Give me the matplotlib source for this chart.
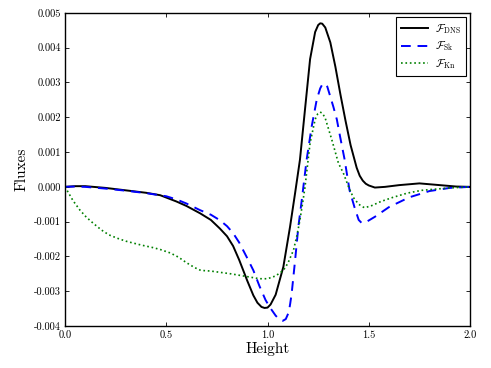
import matplotlib
matplotlib.use("Agg")
import matplotlib.pyplot as plt
from matplotlib.ticker import FormatStrFormatter, MultipleLocator

# ---- data ----
x_dns = [0, 0.05, 0.1, 0.2, 0.3, 0.4, 0.47, 0.55, 0.6, 0.667, 0.72, 0.765, 0.8, 0.83,
         0.86, 0.9, 0.93, 0.95, 0.97, 0.985, 1.0, 1.015, 1.04, 1.078, 1.111, 1.136, 1.16,
         1.185, 1.21, 1.235, 1.25, 1.26, 1.27, 1.285, 1.31, 1.335, 1.36, 1.385, 1.41,
         1.44, 1.455, 1.47, 1.485, 1.5, 1.53, 1.58, 1.65, 1.75, 1.85, 1.93, 2.0]
y_dns = [0, 2e-5, 2e-5, -3e-5, -1e-4, -1.7e-4, -2.4e-4, -4.2e-4, -5.5e-4, -7.6e-4,
         -9.5e-4, -1.2e-3, -1.42e-3, -1.7e-3, -2.1e-3, -2.7e-3, -3.12e-3, -3.33e-3,
         -3.45e-3, -3.48e-3, -3.47e-3, -3.38e-3, -3.1e-3, -2.3e-3, -1.15e-3, -1.8e-4,
         7.8e-4, 2.23e-3, 3.67e-3, 4.45e-3, 4.65e-3, 4.7e-3, 4.69e-3, 4.58e-3, 4.15e-3,
         3.45e-3, 2.65e-3, 1.9e-3, 1.2e-3, 5.5e-4, 3.2e-4, 1.8e-4, 9e-5, 4e-5, -2e-5,
         0, 5e-5, 1e-4, 5e-5, 1e-5, 0]

x_sk = [0, 0.05, 0.1, 0.2, 0.3, 0.4, 0.5, 0.55, 0.6, 0.667, 0.72, 0.765, 0.8, 0.83,
        0.86, 0.9, 0.93, 0.96, 0.99, 1.01, 1.04, 1.06, 1.075, 1.09, 1.105, 1.112, 1.119,
        1.136, 1.152, 1.169, 1.193, 1.218, 1.243, 1.26, 1.27, 1.278, 1.287, 1.295, 1.309,
        1.325, 1.342, 1.358, 1.38, 1.405, 1.43, 1.45, 1.465, 1.49, 1.53, 1.6, 1.7, 1.8,
        1.9, 2.0]
y_sk = [0, 1e-5, 0, -5e-5, -1.1e-4, -1.8e-4, -2.7e-4, -3.6e-4, -4.8e-4, -6.7e-4,
        -8e-4, -9.6e-4, -1.13e-3, -1.33e-3, -1.6e-3, -2.05e-3, -2.4e-3, -2.85e-3,
        -3.25e-3, -3.45e-3, -3.7e-3, -3.82e-3, -3.85e-3, -3.8e-3, -3.6e-3, -3.35e-3,
        -3.07e-3, -2.11e-3, -1.15e-3, -3.8e-4, 7.8e-4, 1.74e-3, 2.51e-3, 2.83e-3,
        2.94e-3, 2.97e-3, 2.95e-3, 2.88e-3, 2.61e-3, 2.3e-3, 1.94e-3, 1.45e-3, 8e-4,
        -1e-4, -6e-4, -9.5e-4, -1.04e-3, -1e-3, -8.6e-4, -5.8e-4, -3e-4, -1.2e-4,
        -3e-5, 0]

x_kn = [0, 0.01, 0.04, 0.074, 0.105, 0.14, 0.18, 0.217, 0.26, 0.3, 0.34, 0.382, 0.43,
        0.47, 0.52, 0.56, 0.6, 0.64, 0.67, 0.72, 0.77, 0.82, 0.87, 0.92, 0.96, 1.0,
        1.04, 1.078, 1.1, 1.128, 1.145, 1.16, 1.175, 1.185, 1.21, 1.235, 1.248, 1.259,
        1.27, 1.284, 1.317, 1.35, 1.374, 1.4, 1.423, 1.45, 1.478, 1.51, 1.56, 1.62,
        1.69, 1.76, 1.82, 1.9, 2.0]
y_kn = [0, -1e-4, -4e-4, -6.7e-4, -8.7e-4, -1.05e-3, -1.24e-3, -1.38e-3, -1.48e-3,
        -1.56e-3, -1.62e-3, -1.68e-3, -1.74e-3, -1.8e-3, -1.9e-3, -2.02e-3, -2.18e-3,
        -2.32e-3, -2.4e-3, -2.42e-3, -2.46e-3, -2.5e-3, -2.55e-3, -2.6e-3, -2.64e-3,
        -2.64e-3, -2.56e-3, -2.4e-3, -2.2e-3, -1.82e-3, -1.4e-3, -9.5e-4, -4e-4, 0,
        1.26e-3, 1.94e-3, 2.1e-3, 2.15e-3, 2.12e-3, 1.99e-3, 1.36e-3, 6.8e-4, 4e-4, 0,
        -3e-4, -5e-4, -6e-4, -5.5e-4, -4.2e-4, -3e-4, -1.8e-4, -1e-4, -7e-5, -3e-5, 0]

labels = [r"$\mathcal{F}_{\rm DNS}$", r"$\mathcal{F}_{\rm Sk}$", r"$\mathcal{F}_{\rm Kn}$"]
xlabel = "Height"
ylabel = "Fluxes"

plt.rcParams["font.family"] = ["cmr10", "DejaVu Serif"]
plt.rcParams["mathtext.fontset"] = "cm"
plt.rcParams["axes.formatter.use_mathtext"] = True

fig = plt.figure(figsize=(4.91, 3.68), dpi=100, facecolor="white")
ax = fig.add_axes([0.1324, 0.114, 0.825, 0.851])

ax.plot(x_dns, y_dns, color="black", lw=1.4, ls="-", label=labels[0])
ax.plot(x_sk, y_sk, color="blue", lw=1.4, ls=(0, (5, 3.5)), label=labels[1])
ax.plot(x_kn, y_kn, color=(0, 0.5, 0), lw=1.2, ls=":", label=labels[2])

ax.set_xlim(0, 2.0)
ax.set_ylim(-0.004, 0.005)
ax.xaxis.set_major_locator(MultipleLocator(0.5))
ax.yaxis.set_major_locator(MultipleLocator(0.001))
ax.xaxis.set_major_formatter(FormatStrFormatter("%.1f"))
ax.yaxis.set_major_formatter(FormatStrFormatter("%.3f"))
ax.tick_params(direction="in", length=3, width=0.6, labelsize=7.5, top=True, right=True, pad=3)
for s in ax.spines.values():
    s.set_linewidth(1.0)

ax.set_xlabel(xlabel, fontsize=11, labelpad=2)
ax.set_ylabel(ylabel, fontsize=11, labelpad=4)

leg = ax.legend(loc="upper right", fontsize=8, fancybox=False, framealpha=1,
                edgecolor="black", handlelength=2.4, handletextpad=0.6,
                borderpad=0.45, labelspacing=0.3, borderaxespad=0.4)
leg.get_frame().set_linewidth(0.8)

fig.savefig("out.png", dpi=100, facecolor="white")
